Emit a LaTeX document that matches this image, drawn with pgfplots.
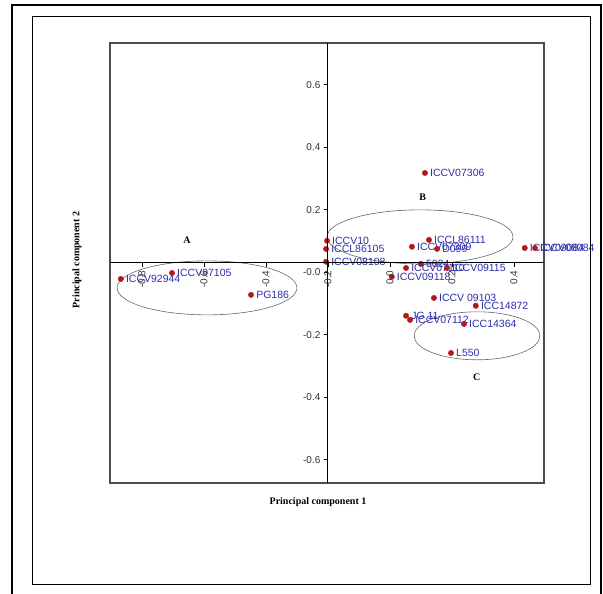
\documentclass[border=0pt]{standalone}
\usepackage{fontspec}
\setmainfont{Liberation Serif}
\newfontfamily\arial{Liberation Sans}
\usepackage{pgfplots}
\pgfplotsset{compat=1.18}
\definecolor{lblblue}{RGB}{45,45,170}
\definecolor{dotred}{RGB}{180,25,25}
\begin{document}
\begin{tikzpicture}[x=1pt,y=1pt]
\path[use as bounding box] (0,0) rectangle (603,594);
\begin{axis}[
  at={(110pt,111pt)}, anchor=south west,
  scale only axis, width=434pt, height=440pt,
  xmin=-0.903, xmax=0.497, ymin=-0.674, ymax=0.734,
  xtick=\empty, ytick=\empty,
  axis line style={draw=black!70, line width=1.1pt},
  clip=false,
  point meta=explicit symbolic,
  nodes near coords,
  every node near coord/.append style={anchor=west, font=\arial\fontsize{10.5}{12}\selectfont, text=lblblue, inner sep=0pt, xshift=5pt},
]
\addplot[only marks, mark=*, mark size=2.7pt, color=dotred] table[col sep=comma, meta=label] {
x,y,label
-0.868,-0.021,ICCV92944
-0.703,-0.002,ICCV97105
-0.448,-0.072,PG186
-0.203,0.101,ICCV10
-0.206,0.075,ICCL86105
-0.206,0.034,ICCV08108
0.113,0.318,ICCV07306
0.126,0.104,ICCL86111
0.071,0.082,ICCV07309
0.152,0.075,D099
0.435,0.078,ICCV09084
0.468,0.078,ICCV08084
0.100,0.027,5024
0.052,0.014,ICCV07110
0.184,0.014,ICCV09115
0.006,-0.014,ICCV09118
0.142,-0.082,ICCV 09103
0.277,-0.107,ICC14872
0.052,-0.139,JG 11
0.065,-0.152,ICCV07112
0.239,-0.165,ICC14364
0.197,-0.258,L550
};
\draw[black!60, line width=0.6pt] (axis cs:-0.590,-0.0496) ellipse [x radius=0.290, y radius=0.0864];
\draw[black!60, line width=0.6pt] (axis cs:0.097,0.1136) ellipse [x radius=0.300, y radius=0.0864];
\draw[black!60, line width=0.6pt] (axis cs:0.281,-0.203) ellipse [x radius=0.203, y radius=0.0768];
\node[font=\bfseries\fontsize{10}{12}\selectfont] at (axis cs:-0.655,0.104) {A};
\node[font=\bfseries\fontsize{10}{12}\selectfont] at (axis cs:0.106,0.240) {B};
\node[font=\bfseries\fontsize{10}{12}\selectfont] at (axis cs:0.280,-0.336) {C};
\end{axis}
\begin{axis}[
  at={(110pt,111pt)}, anchor=south west,
  scale only axis, width=434pt, height=440pt,
  xmin=-0.703, xmax=0.697, ymin=-0.704, ymax=0.704,
  axis lines=middle, axis line style={-, black, line width=1pt},
  xtick={-0.6,-0.4,-0.2,0,0.2,0.4,0.6},
  xticklabels={-0.8,-0.6,-0.4,-0.2,0.0,0.2,0.4},
  ytick={0.57,0.37,0.17,-0.03,-0.23,-0.43,-0.63},
  yticklabels={0.6,0.4,0.2,-0.0,-0.2,-0.4,-0.6},
  hide obscured x ticks=false, hide obscured y ticks=false,
  tick align=outside, major tick length=4pt,
  tick style={black, line width=0.8pt},
  x tick label style={rotate=90, anchor=east, font=\arial\fontsize{10}{12}\selectfont, text=black!80},
  y tick label style={font=\arial\fontsize{10}{12}\selectfont, text=black!80},
]
\end{axis}
\node[font=\bfseries\fontsize{10}{12}\selectfont] at (318,92) {Principal component 1};
\node[font=\bfseries\fontsize{10}{12}\selectfont, rotate=90] at (77,334) {Principal component 2};
\draw[line width=2pt] (12,-5) -- (12,589) -- (601,589) -- (601,-5);
\draw[line width=0.9pt] (32,10) rectangle (590,578);
\end{tikzpicture}
\end{document}
